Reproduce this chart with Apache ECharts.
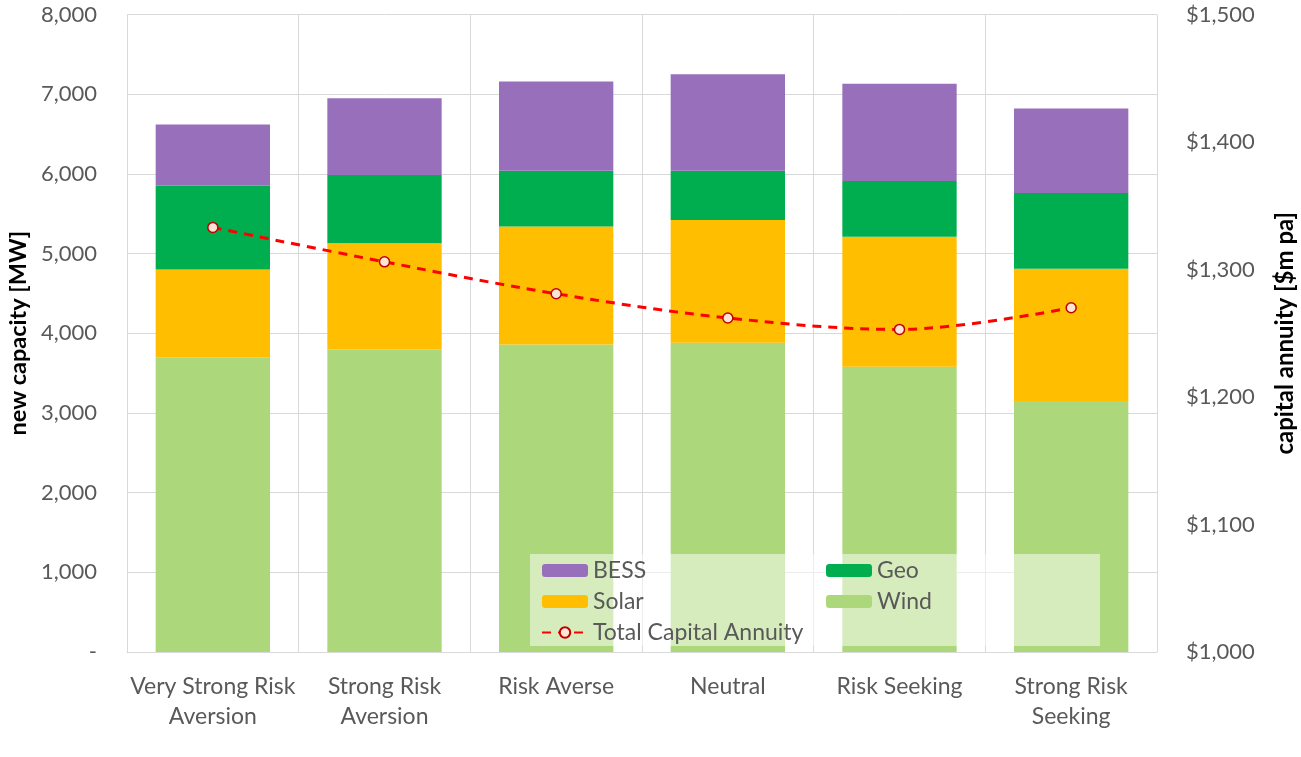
<!DOCTYPE html>
<html>
<head>
<meta charset="utf-8">
<script src="https://cdn.jsdelivr.net/npm/echarts@6/dist/echarts.min.js"></script>
<style>
  html, body { margin: 0; padding: 0; background: #fff; }
  #chart { width: 1301px; height: 757px; }
</style>
</head>
<body>
<div id="chart"></div>
<script>
// Scenario categories
const categories = [
  'Very Strong Risk\nAversion',
  'Strong Risk\nAversion',
  'Risk Averse',
  'Neutral',
  'Risk Seeking',
  'Strong Risk\nSeeking'
];

// New capacity by technology [MW]
const wind  = [3700, 3800, 3860, 3880, 3580, 3150];
const solar = [1100, 1330, 1480, 1540, 1630, 1660];
const geo   = [1050,  855,  700,  620,  700,  950];
const bess  = [ 770,  965, 1120, 1210, 1220, 1060];

// Total capital annuity [$m pa]
const annuity = [1333, 1306, 1281, 1262, 1253, 1270];

const FONT = 'Lato, "Open Sans", sans-serif';
const GREY = '#595959';
const GRID = '#d9d9d9';

const fmtComma = v => v.toLocaleString('en-US');

const chart = echarts.init(document.getElementById('chart'), null, { renderer: 'canvas' });

const barSeries = (name, data, color) => ({
  name, type: 'bar', stack: 'cap', data,
  barWidth: '66.6%',
  itemStyle: { color },
  emphasis: { disabled: true }
});

const legendText = { color: GREY, fontSize: 23, lineHeight: 22, fontFamily: FONT };

chart.setOption({
  animation: false,
  textStyle: { fontFamily: FONT },
  grid: { left: 127, right: 144, top: 14.5, bottom: 105, containLabel: false, outerBoundsMode: 'none' },
  xAxis: {
    type: 'category',
    data: categories,
    axisLine: { lineStyle: { color: GRID, width: 1 } },
    axisTick: { show: false },
    splitLine: { show: true, lineStyle: { color: GRID, width: 1 } },
    axisLabel: { color: GREY, fontSize: 23, lineHeight: 30, margin: 20, fontFamily: FONT, interval: 0 }
  },
  yAxis: [
    {
      type: 'value', min: 0, max: 8000, interval: 1000,
      name: 'new capacity [MW]', nameLocation: 'middle', nameRotate: 90, nameGap: 88,
      nameTextStyle: { color: '#000', fontWeight: 'bold', fontSize: 23.5, fontFamily: FONT },
      axisLine: { show: false }, axisTick: { show: false },
      splitLine: { lineStyle: { color: GRID, width: 1 } },
      axisLabel: { color: GREY, fontSize: 22, margin: 30, fontFamily: FONT,
        formatter: v => v === 0 ? '-' : fmtComma(v) }
    },
    {
      type: 'value', min: 1000, max: 1500, interval: 100, position: 'right',
      name: 'capital annuity [$m pa]', nameLocation: 'middle', nameRotate: 90, nameGap: 116,
      nameTextStyle: { color: '#000', fontWeight: 'bold', fontSize: 24, fontFamily: FONT },
      axisLine: { show: false }, axisTick: { show: false },
      splitLine: { show: false },
      axisLabel: { color: GREY, fontSize: 22, margin: 29, fontFamily: FONT,
        formatter: v => '$' + fmtComma(v) }
    }
  ],
  graphic: [{
    type: 'rect', z: 50,
    shape: { x: 530, y: 554, width: 570, height: 92 },
    style: { fill: 'rgba(255,255,255,0.5)' }
  }],
  legend: [
    {
      orient: 'vertical', left: 541, top: 559, z: 60, padding: 0,
      itemWidth: 46, itemHeight: 13, itemGap: 8,
      data: ['BESS', 'Solar', 'Total Capital Annuity'],
      textStyle: legendText
    },
    {
      orient: 'vertical', left: 826, top: 559, z: 60, padding: 0,
      itemWidth: 46, itemHeight: 13, itemGap: 8,
      data: ['Geo', 'Wind'],
      textStyle: legendText
    }
  ],
  series: [
    barSeries('Wind', wind, '#acd87b'),
    barSeries('Solar', solar, '#ffbf00'),
    barSeries('Geo', geo, '#00ae4f'),
    barSeries('BESS', bess, '#986fba'),
    {
      name: 'Total Capital Annuity', type: 'line', yAxisIndex: 1,
      data: annuity, smooth: 0.35,
      symbol: 'circle', symbolSize: 10,
      lineStyle: { color: '#ff0000', width: 3, type: [9, 7] },
      itemStyle: { color: '#fbe5d6', borderColor: '#c00000', borderWidth: 1.5 },
      emphasis: { disabled: true },
      z: 5
    }
  ]
});
</script>
</body>
</html>
